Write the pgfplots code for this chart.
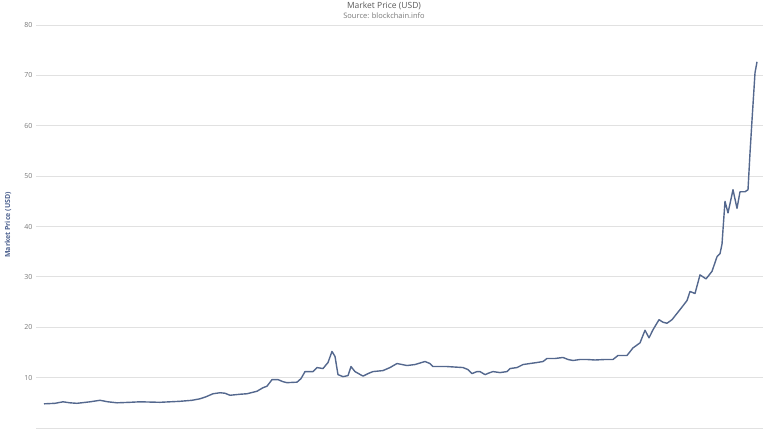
\documentclass[border=0pt]{standalone}
\usepackage{pgfplots}
\pgfplotsset{compat=1.18}
\usepackage{fontspec}
\setmainfont{Open Sans}
\definecolor{lineblue}{RGB}{84,104,142}
\definecolor{gridgray}{RGB}{225,225,225}
\definecolor{labgray}{RGB}{120,120,120}
\definecolor{ylab}{RGB}{80,100,145}
\begin{document}
\begin{tikzpicture}[x=1pt,y=1pt]
\useasboundingbox (0,0) rectangle (768,432);
\begin{axis}[
  at={(36pt,4pt)}, anchor=south west,
  width=727pt, height=403pt, scale only axis,
  xmin=36, xmax=763, ymin=0, ymax=80,
  ytick={10,20,...,80},
  xtick=\empty,
  axis x line*=bottom, axis y line*=left,
  x axis line style={gridgray, line width=0.8pt, -},
  y axis line style={draw=none},
  ymajorgrids, grid style={gridgray, line width=0.8pt},
  yticklabel style={font=\fontsize{7}{8}\selectfont, text=labgray},
  /pgf/number format/assume math mode=true,
  ytick style={draw=none},
  clip=false,
]
\addplot[lineblue, line width=1.4pt, line join=round] coordinates {
(44,4.8) (55,4.9) (63,5.2) (70,5.0) (77,4.9) (90,5.2) (100,5.5) (108,5.2) (117,5.0) (130,5.1) (140,5.2) (160,5.1) (180,5.3) (192,5.5) (200,5.8) (206,6.2) (213,6.8) (220,7.0) (225,6.9) (230,6.5) (240,6.7) (247,6.8) (257,7.3) (263,8.0) (267,8.3) (272,9.6) (278,9.6) (283,9.2) (287,9.0) (297,9.1) (301,9.8) (305,11.2) (313,11.2) (317,12.0) (323,11.8) (328,13.0) (332,15.2) (335,14.2) (338,10.6) (343,10.2) (348,10.4) (351,12.2) (355,11.2) (363,10.3) (368,10.8) (373,11.2) (383,11.4) (390,12.0) (397,12.8) (407,12.4) (415,12.6) (425,13.2) (430,12.8) (433,12.2) (447,12.2) (463,12.0) (468,11.6) (472,10.8) (477,11.2) (480,11.2) (485,10.6) (490,11.0) (493,11.2) (500,11.0) (507,11.2) (510,11.8) (517,12.0) (523,12.6) (530,12.8) (537,13.0) (543,13.2) (547,13.8) (555,13.8) (563,14.0) (568,13.6) (573,13.4) (580,13.6) (587,13.6) (595,13.5) (605,13.6) (613,13.6) (618,14.4) (627,14.4) (633,15.9) (640,16.9) (645,19.4) (649,17.9) (653,19.5) (659,21.5) (663,21.0) (667,20.8) (672,21.5) (680,23.5) (687,25.3) (690,27.1) (695,26.7) (700,30.4) (706,29.6) (712,31.1) (717,34.0) (720,34.6) (722,36.5) (723,39.4) (725,45.0) (728,42.7) (733,47.3) (737,43.6) (740,46.9) (745,46.9) (748,47.3) (750,54.6) (752,61.1) (755,70.5) (757,72.7)
};
\end{axis}
\node[font=\fontsize{8.5}{10}\selectfont, text=black!65] at (384,426) {Market Price (USD)};
\node[font=\fontsize{7.5}{9}\selectfont, text=labgray] at (384,416) {Source: blockchain.info};
\node[rotate=90, font=\bfseries\fontsize{7}{8}\selectfont, text=ylab] at (8,207) {Market Price (USD)};
\end{tikzpicture}
\end{document}
